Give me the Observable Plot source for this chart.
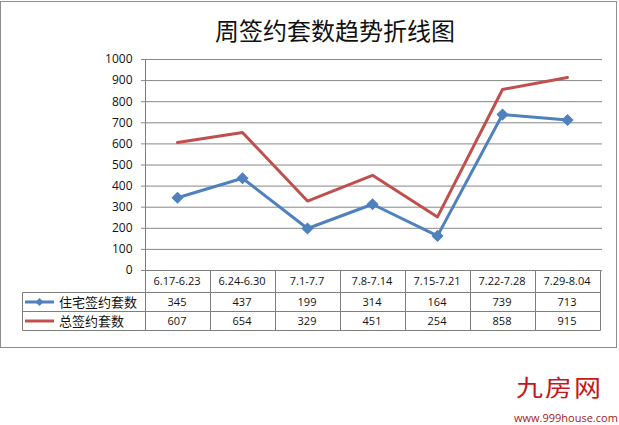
<!DOCTYPE html>
<html>
<head>
<meta charset="utf-8">
<script src="https://cdn.jsdelivr.net/npm/d3@7"></script>
<script src="https://cdn.jsdelivr.net/npm/@observablehq/plot@0.6"></script>
<style>
  html, body { margin: 0; padding: 0; background: #fff; }
  #wrap { position: relative; width: 619px; height: 425px; overflow: hidden; background: #fff; }
  #border { position: absolute; left: 0px; top: 1px; width: 617px; height: 347px; box-sizing: border-box; border: 1.5px solid #8e8e8e; }
  #title { position: absolute; left: 0; width: 670px; top: 12px; text-align: center; font-family: "Noto Sans CJK SC", sans-serif; font-size: 24px; color: #111; letter-spacing: 0px; }
  #logo { position: absolute; left: 516px; top: 374px; font-family: "Noto Sans CJK SC", sans-serif; font-size: 27px; line-height: 30px; color: #c8161d; letter-spacing: 2px; transform: scaleY(0.85); transform-origin: top left; }
  #url { position: absolute; left: 514px; top: 411px; font-family: "Open Sans", sans-serif; font-size: 11px; line-height: 14px; color: #a82020; }
  #chart { position: absolute; left: 0; top: 0; }
</style>
</head>
<body>
<div id="wrap">
  <div id="border"></div>
  <div id="chart"></div>
  <div id="title">周签约套数趋势折线图</div>
  <div id="logo">九房网</div>
  <div id="url">www.999house.com</div>
</div>
<script>
const categories = ["6.17-6.23", "6.24-6.30", "7.1-7.7", "7.8-7.14", "7.15-7.21", "7.22-7.28", "7.29-8.04"];
const residential = [345, 437, 199, 314, 164, 739, 713];
const total = [607, 654, 329, 451, 254, 858, 915];
const seriesNames = ["住宅签约套数", "总签约套数"];
const seriesColors = ["#4F81BD", "#C0504D"];
const yTicks = [0, 100, 200, 300, 400, 500, 600, 700, 800, 900, 1000];

const resRows = categories.map((c, i) => ({period: c, value: residential[i]}));
const totRows = categories.map((c, i) => ({period: c, value: total[i]}));
const tableSeries = [residential, total];

function tableMark(index, scales) {
  const {x, y} = scales;
  const step = x(categories[1]) - x(categories[0]);
  const left = Math.round(x(categories[0]) - step / 2) + 0.5;
  const right = Math.round(x(categories[categories.length - 1]) + step / 2) + 0.5;
  const top = y(1000);
  const r0 = Math.round(y(0)) + 0.5;      // header top
  const r1 = r0 + 22;                      // first data row top
  const r2 = r1 + 19;                      // second data row top
  const r3 = r2 + 19;                      // bottom
  const legLeft = 22.5;
  const g = d3.create("svg:g");
  const stroke = "#7f7f7f";
  const line = (x1, y1, x2, y2) => g.append("line").attr("x1", x1).attr("y1", y1).attr("x2", x2).attr("y2", y2).attr("stroke", stroke).attr("stroke-width", 1);
  // axis line
  line(left, top, left, r3);
  // horizontal table lines
  line(left, r0, right, r0);
  line(legLeft, r1, right, r1);
  line(legLeft, r2, right, r2);
  line(legLeft, r3, right, r3);
  line(legLeft, r1, legLeft, r3);
  // column boundaries
  categories.forEach((c, i) => {
    const xb = Math.round(x(c) + step / 2) + 0.5;
    line(xb, r0, xb, r3);
  });
  // header labels
  categories.forEach(c => {
    g.append("text").attr("x", x(c)).attr("y", (r0 + r1) / 2).attr("dy", "0.36em")
      .attr("text-anchor", "middle").attr("font-family", "Open Sans, sans-serif").attr("font-size", 11).attr("fill", "#111").text(c);
  });
  // data rows
  const rowTops = [r1, r2];
  const rowBots = [r2, r3];
  tableSeries.forEach((vals, s) => {
    const cy = (rowTops[s] + rowBots[s]) / 2;
    vals.forEach((v, i) => {
      g.append("text").attr("x", x(categories[i])).attr("y", cy).attr("dy", "0.36em")
        .attr("text-anchor", "middle").attr("font-family", "Open Sans, sans-serif").attr("font-size", 11).attr("fill", "#111").text(v);
    });
    // legend key
    g.append("line").attr("x1", 25).attr("x2", 54).attr("y1", cy).attr("y2", cy)
      .attr("stroke", seriesColors[s]).attr("stroke-width", 3);
    if (s === 0) {
      g.append("path").attr("d", d3.symbol(d3.symbolDiamond2, 40)()).attr("transform", `translate(39.5,${cy})`)
        .attr("fill", seriesColors[s]);
    }
    g.append("text").attr("x", 59).attr("y", cy).attr("dy", "0.36em").attr("text-anchor", "start")
      .attr("font-family", "Noto Sans CJK SC, sans-serif").attr("font-size", 13).attr("fill", "#111").text(seriesNames[s]);
  });
  return g.node();
}

const chart = Plot.plot({
  width: 619,
  height: 425,
  marginLeft: 141,
  marginRight: 17,
  marginTop: 59,
  marginBottom: 155,
  style: {background: "transparent", fontFamily: "Open Sans, sans-serif", overflow: "visible"},
  x: {type: "point", domain: categories, padding: 0.5, axis: null},
  y: {domain: [0, 1000]},
  marks: [
    Plot.gridY(yTicks, {stroke: "#878787", strokeOpacity: 1}),
    Plot.axisY(yTicks, {tickSize: 0, tickPadding: 9, fontSize: 12, fill: "#111", label: null, tickFormat: d => String(d)}),
    tableMark,
    Plot.line(totRows, {x: "period", y: "value", stroke: seriesColors[1], strokeWidth: 3}),
    Plot.line(resRows, {x: "period", y: "value", stroke: seriesColors[0], strokeWidth: 3}),
    Plot.dot(resRows, {x: "period", y: "value", symbol: "diamond2", r: 4.5, fill: seriesColors[0], stroke: seriesColors[0]})
  ]
});
document.getElementById("chart").appendChild(chart);
</script>
</body>
</html>
